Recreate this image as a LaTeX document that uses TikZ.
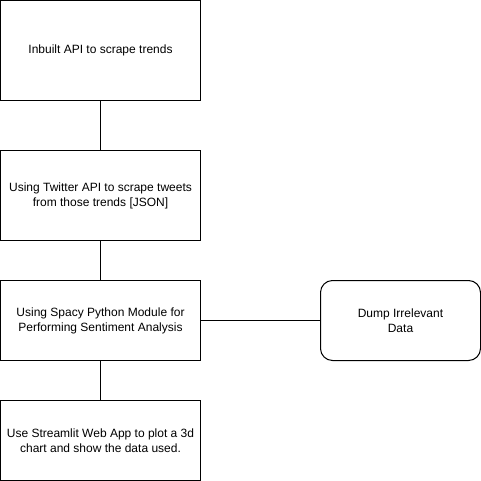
\documentclass[tikz,border=0pt]{standalone}
\usepackage{fontspec}
\setmainfont{Liberation Sans}
\usetikzlibrary{positioning}

\begin{document}
\begin{tikzpicture}[line width=1pt,node distance=40pt,
		                    step box/.style={rectangle,draw,minimum width=200pt,align=center,
		                    inner sep=0pt,outer sep=0pt,font=\fontsize{12}{15}\selectfont},
		                    dump box/.style={step box,minimum width=160pt,minimum height=80pt,rounded corners=12pt}]
			\useasboundingbox (-0.5pt,0.5pt) rectangle (480.5pt,-480.5pt);
			% Nodes
			  \node[step box,minimum height=100pt] (trends) at (100pt,-50pt) {Inbuilt API to scrape trends};
			  \node[step box,minimum height=90pt] (tweets) [below=50pt of trends] {Using Twitter API to scrape tweets\\from those trends [JSON]};
			  \node[step box,minimum height=80pt] (spacy) [below=of tweets] {Using Spacy Python Module for\\Performing Sentiment Analysis};
			  \node[step box,minimum height=80pt] (app) [below=of spacy] {Use Streamlit Web App to plot a 3d\\chart and show the data used.};
			  \node[dump box] (dump) [right=120pt of spacy] {Dump Irrelevant\\Data};
			
			% Edges
			 \draw (trends) -- (tweets) -- (spacy) -- (app);
			 \draw (spacy) -- (dump);
			\end{tikzpicture}
\end{document}
